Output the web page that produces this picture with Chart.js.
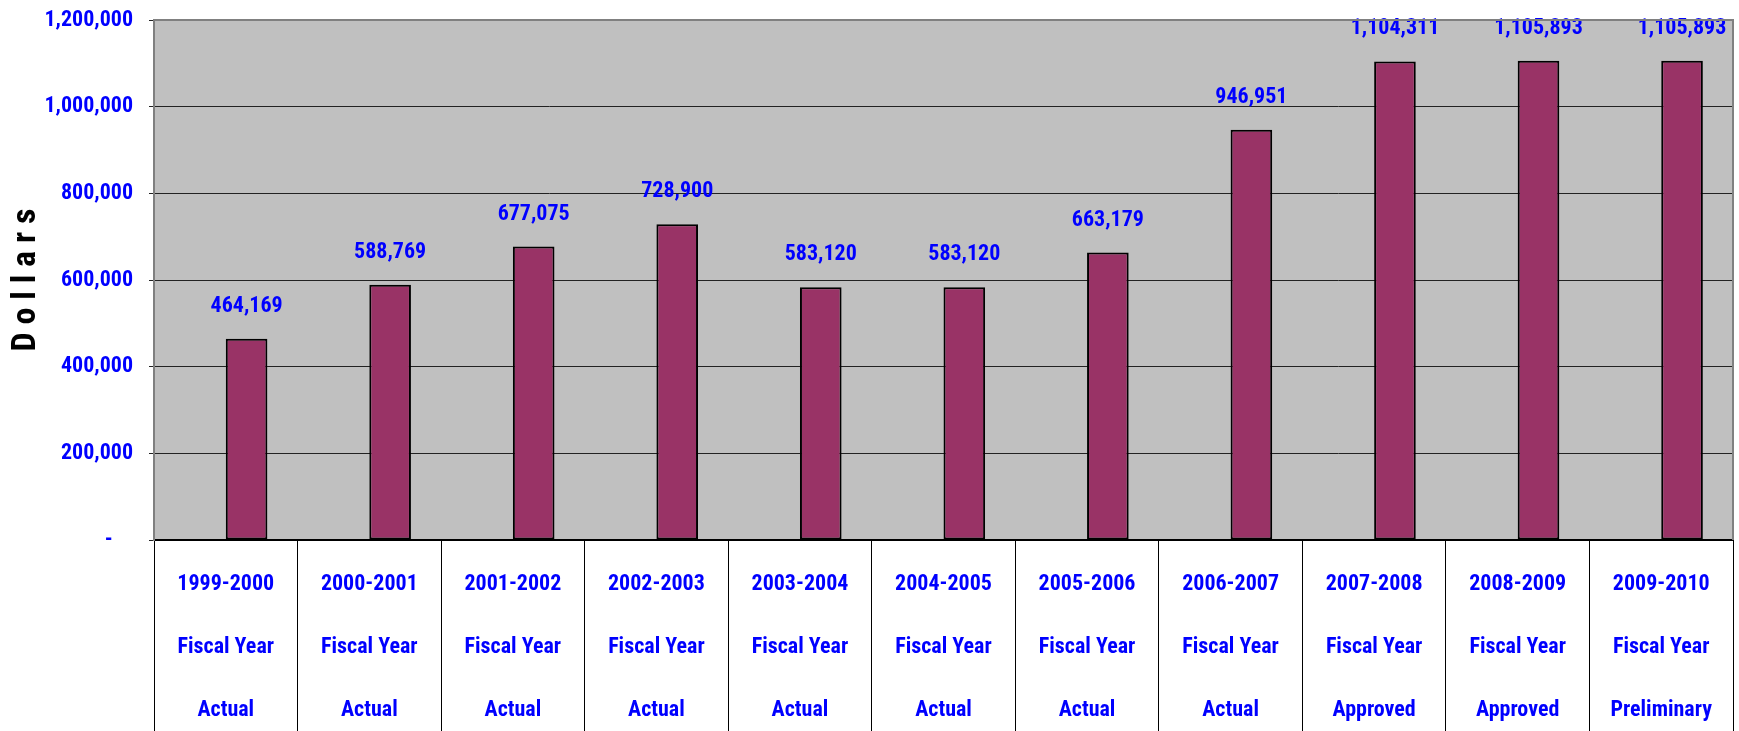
<!DOCTYPE html>
<html>
<head>
<meta charset="utf-8">
<script src="https://cdn.jsdelivr.net/npm/chart.js@4"></script>
<style>
    body { margin: 0; background: #fff; }
    #caixa { width: 1739px; height: 731px; }
</style>
</head>
<body>
<div id="caixa"><canvas id="grafico"></canvas></div>
<script>
// dados
const anosFiscais = ['1999-2000', '2000-2001', '2001-2002', '2002-2003', '2003-2004', '2004-2005',
    '2005-2006', '2006-2007', '2007-2008', '2008-2009', '2009-2010'];
const situacao = ['Actual', 'Actual', 'Actual', 'Actual', 'Actual', 'Actual',
    'Actual', 'Actual', 'Approved', 'Approved', 'Preliminary'];
const valores = [464169, 588769, 677075, 728900, 583120, 583120, 663179, 946951, 1104311, 1105893, 1105893];
const vazio = [null, null, null, null, null, null, null, null, null, null, null];
const eixoMin = 0;
const eixoMax = 1200000;
const passo = 200000;

const fonteNarrow = "'Liberation Sans Narrow', 'Arial Narrow', 'Roboto Condensed', sans-serif";

let rotulos = anosFiscais.map((ano, i) => [ano, 'Fiscal Year', situacao[i]]);

// fundo cinza e bordas da area do grafico
let pluginFundo = {
    id: 'fundo',
    beforeDraw: function (chart) {
        let ctx = chart.ctx;
        let a = chart.chartArea;
        ctx.save();
        ctx.fillStyle = '#C0C0C0';
        ctx.fillRect(a.left, a.top, a.right - a.left, a.bottom - a.top);
        ctx.restore();
    },
    afterDraw: function (chart) {
        let ctx = chart.ctx;
        let a = chart.chartArea;
        ctx.save();
        ctx.strokeStyle = '#808080';
        ctx.lineWidth = 2;
        ctx.beginPath();
        ctx.moveTo(a.left, a.top);
        ctx.lineTo(a.right, a.top);
        ctx.lineTo(a.right, a.bottom);
        ctx.stroke();
        ctx.restore();
    }
};

// valores em cima das barras
let pluginValores = {
    id: 'valores',
    afterDatasetsDraw: function (chart) {
        let ctx = chart.ctx;
        let meta = chart.getDatasetMeta(1);
        ctx.save();
        ctx.font = 'bold 22px ' + fonteNarrow;
        ctx.fillStyle = '#0000FF';
        ctx.textAlign = 'center';
        ctx.textBaseline = 'alphabetic';
        meta.data.forEach((barra, i) => {
            ctx.fillText(valores[i].toLocaleString('en-US'), barra.x, barra.y - 27);
        });
        ctx.restore();
    }
};

const ctx = document.getElementById('grafico');

new Chart(ctx, {
    type: 'bar',
    data: {
        labels: rotulos,
        datasets: [
            {
                label: '',
                data: vazio
            },
            {
                label: 'Dollars',
                data: valores,
                backgroundColor: '#993366',
                borderColor: '#000000',
                borderWidth: 2,
                borderSkipped: false
            }
        ]
    },
    options: {
        responsive: true,
        maintainAspectRatio: false,
        animation: false,
        categoryPercentage: 0.58,
        barPercentage: 1,
        layout: {
            padding: { top: 20, right: 6, bottom: 0, left: 0 }
        },
        scales: {
            x: {
                grid: {
                    offset: true,
                    drawOnChartArea: false,
                    tickLength: 191,
                    color: '#000000',
                    lineWidth: 1
                },
                border: { color: '#000000', width: 2 },
                ticks: {
                    color: '#0000FF',
                    padding: -178,
                    maxRotation: 0,
                    autoSkip: false,
                    font: { family: fonteNarrow, size: 22, weight: 'bold', lineHeight: 2.86 }
                },
                afterFit: function (escala) { escala.height = 191; }
            },
            y: {
                min: eixoMin,
                max: eixoMax,
                ticks: {
                    stepSize: passo,
                    color: '#0000FF',
                    padding: 16,
                    font: { family: fonteNarrow, size: 22, weight: 'bold' },
                    callback: function (valor) {
                        return valor === 0 ? '-    ' : valor.toLocaleString('en-US');
                    }
                },
                grid: {
                    color: '#222222',
                    lineWidth: 1,
                    tickLength: 5
                },
                border: { color: '#808080', width: 2 },
                title: {
                    display: true,
                    text: 'D o l l a r s',
                    color: '#000000',
                    padding: { top: 6, bottom: 0 },
                    font: { family: fonteNarrow, size: 34, weight: 'bold' }
                },
                afterFit: function (escala) {
                    escala.width = 154;
                    escala.paddingTop = 0;
                    escala.paddingBottom = 0;
                }
            }
        },
        plugins: {
            legend: { display: false },
            tooltip: { enabled: false }
        }
    },
    plugins: [pluginFundo, pluginValores]
});
</script>
</body>
</html>
